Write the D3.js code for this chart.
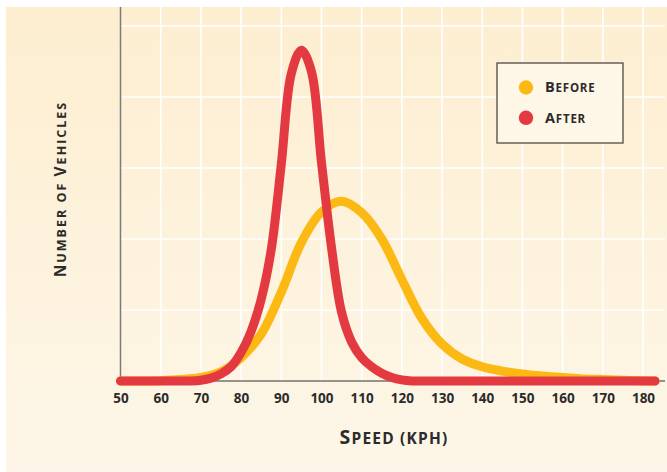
<!DOCTYPE html>
<html>
<head>
<meta charset="utf-8">
<script src="https://cdn.jsdelivr.net/npm/d3@7/dist/d3.min.js"></script>
<style>
  html, body { margin: 0; padding: 0; background: #ffffff; }
  svg { display: block; }
  text { font-family: "Open Sans", "DejaVu Sans", sans-serif; font-weight: 700; fill: #2b2b2b; }
</style>
</head>
<body>
<svg id="chart" width="667" height="472"></svg>
<script>
// ---- data ----
const speedTicks = [50, 60, 70, 80, 90, 100, 110, 120, 130, 140, 150, 160, 170, 180];
const gridValues = [1, 2, 3, 4, 5];

const beforeSpeeds = [50, 55, 60, 65, 70, 75, 80, 85, 90, 95, 100, 105, 110, 115, 120, 125, 130, 135, 140, 145, 150, 155, 160, 165, 170, 175, 183];
const beforeValues = [0, 0, 0.005, 0.02, 0.05, 0.13, 0.33, 0.66, 1.25, 1.95, 2.38, 2.53, 2.37, 2.0, 1.43, 0.88, 0.52, 0.31, 0.2, 0.14, 0.1, 0.07, 0.05, 0.03, 0.02, 0.01, 0];

const afterSpeeds = [50, 55, 60, 65, 67.5, 70, 72.5, 75, 77.5, 80, 82.5, 85, 87.5, 90, 92.5, 95, 97.5, 100, 102.5, 105, 107.5, 110, 112.5, 115, 117.5, 120, 122.5, 125, 183];
const afterValues = [0, 0, 0, 0, 0, 0.01, 0.04, 0.1, 0.2, 0.4, 0.7, 1.15, 1.85, 3.05, 4.33, 4.66, 4.36, 3.08, 1.88, 0.97, 0.55, 0.33, 0.2, 0.11, 0.05, 0.015, 0, 0, 0];

const legendLabels = ["Before", "After"];
const seriesColors = ["#fdb913", "#e23a40"];

// ---- layout ----
const svg = d3.select("#chart");
const W = 667, H = 472;

const defs = svg.append("defs");
const grad = defs.append("linearGradient").attr("id", "bg").attr("x1", 0).attr("y1", 0).attr("x2", 0).attr("y2", 1);
grad.append("stop").attr("offset", "0%").attr("stop-color", "#fdeed0");
grad.append("stop").attr("offset", "100%").attr("stop-color", "#fdf6e8");

svg.append("rect").attr("x", 6).attr("y", 7).attr("width", W - 6).attr("height", H - 7).attr("fill", "url(#bg)");

const x = d3.scaleLinear().domain([50, 180]).range([120.5, 643]);
const y = d3.scaleLinear().domain([0, 5]).range([381, 26]);
const plotTop = 7, plotRight = 665;

// gridlines
const g = svg.append("g");
g.selectAll("line.v").data(speedTicks.slice(1)).join("line")
  .attr("x1", d => x(d)).attr("x2", d => x(d))
  .attr("y1", plotTop).attr("y2", y(0))
  .attr("stroke", "#ffffff").attr("stroke-width", 1.6);
g.selectAll("line.h").data(gridValues).join("line")
  .attr("x1", x(50)).attr("x2", plotRight)
  .attr("y1", d => y(d)).attr("y2", d => y(d))
  .attr("stroke", "#ffffff").attr("stroke-width", 1.6);

// axes lines
svg.append("line").attr("x1", x(50)).attr("x2", x(50)).attr("y1", plotTop).attr("y2", y(0))
  .attr("stroke", "#7b7b7b").attr("stroke-width", 1.5);
svg.append("line").attr("x1", x(50)).attr("x2", plotRight).attr("y1", y(0)).attr("y2", y(0))
  .attr("stroke", "#333333").attr("stroke-width", 1.2);

// x axis tick labels via d3 axis
const xAxis = d3.axisBottom(x).tickValues(speedTicks).tickSize(0).tickPadding(0).tickFormat(d3.format("d"));
const ax = svg.append("g").attr("transform", `translate(0, 393)`).call(xAxis);
ax.select(".domain").remove();
ax.selectAll("text")
  .attr("dy", "0.71em")
  .style("font-family", '"Open Sans", sans-serif')
  .style("font-weight", 700)
  .style("font-size", "13.5px")
  .attr("fill", "#333333");

// lines
const line = d3.line().x(d => x(d[0])).y(d => y(d[1])).curve(d3.curveCatmullRom.alpha(0.5));
const beforeData = beforeSpeeds.map((s, i) => [s, beforeValues[i]]);
const afterData = afterSpeeds.map((s, i) => [s, afterValues[i]]);

svg.append("path").datum(beforeData).attr("d", line)
  .attr("fill", "none").attr("stroke", seriesColors[0]).attr("stroke-width", 9)
  .attr("stroke-linecap", "round").attr("stroke-linejoin", "round");
svg.append("path").datum(afterData).attr("d", line)
  .attr("fill", "none").attr("stroke", seriesColors[1]).attr("stroke-width", 9)
  .attr("stroke-linecap", "round").attr("stroke-linejoin", "round");

// small-caps helper
function smallCaps(sel, str, big, small) {
  const words = str.split(" ");
  words.forEach((w, wi) => {
    if (wi > 0) sel.append("tspan").style("font-size", small + "px").text(" ");
    const isCapWord = /^[A-Z]/.test(w);
    if (isCapWord) {
      sel.append("tspan").style("font-size", big + "px").text(w[0]);
      sel.append("tspan").style("font-size", small + "px").text(w.slice(1).toUpperCase());
    } else {
      sel.append("tspan").style("font-size", small + "px").text(w.toUpperCase());
    }
  });
}

// x axis title
const xt = svg.append("text").attr("x", 394).attr("y", 444).attr("text-anchor", "middle")
  .style("letter-spacing", "1.2px");
smallCaps(xt, "Speed (kph)", 19.5, 15.5);

// y axis title
const yt = svg.append("text").attr("transform", "translate(65.5,189) rotate(-90)").attr("text-anchor", "middle")
  .style("letter-spacing", "2px");
smallCaps(yt, "Number of Vehicles", 15.5, 12.5);

// legend
const lg = svg.append("g");
lg.append("rect").attr("x", 497).attr("y", 63).attr("width", 126).attr("height", 80)
  .attr("fill", "#fef6e6").attr("stroke", "#5a5652").attr("stroke-width", 1.4);
legendLabels.forEach((lab, i) => {
  const cy = 87.5 + i * 30.3;
  lg.append("circle").attr("cx", 526).attr("cy", cy).attr("r", 7.2).attr("fill", seriesColors[i]);
  const t = lg.append("text").attr("x", 545).attr("y", cy + 4.8).style("letter-spacing", "0.8px");
  smallCaps(t, lab, 14.5, 11.5);
});
</script>
</body>
</html>
